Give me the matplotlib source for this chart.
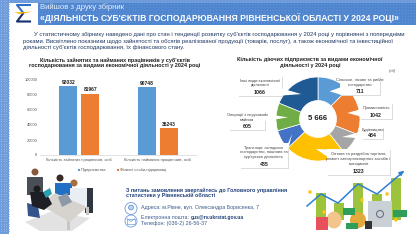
import numpy as np
import matplotlib
matplotlib.use('Agg')
import matplotlib.pyplot as plt
from matplotlib.patches import Rectangle, Polygon, Circle, Ellipse

plt.rcParams['font.family'] = ['Liberation Sans', 'DejaVu Sans']

# bar chart data
bar_groups = ['Кількість зайнятих працівників, осіб', 'Кількість найманих працівників, осіб']
bar_series = ['Підприємства', 'Фізичні особи-підприємці']
enterprises = [92032, 90748]
individuals = [81967, 36243]
bar_ticks = [0, 20000, 40000, 60000, 80000, 100000]

# donut data
donut_values = [711, 1042, 484, 1323, 435, 605, 1066]
donut_colors = ['#5b9bd5', '#ed7d31', '#a5a5a5', '#ffc000', '#4472c4', '#70ad47', '#1f5a94']
donut_labels = ['Сільське, лісове та рибне\nгосподарство', 'Промисловість', 'Будівництво',
                'Оптова та роздрібна торгівля;\nремонт автотранспортних засобів і\nмотоциклів',
                'Транспорт, складське\nгосподарство, поштова та\nкур\'єрська діяльність',
                'Операції з нерухомим\nмайном', 'Інші види економічної\nдіяльності']
donut_total = '5 666'

NAVY = '#1f3864'
W, H = 416, 234
fig = plt.figure(figsize=(W / 100, H / 100), dpi=100)
bg = fig.add_axes([0, 0, 1, 1])
bg.set_xlim(0, W)
bg.set_ylim(H, 0)
bg.axis('off')

# dotted blue frame and header
bg.add_patch(Rectangle((0, 0), 9, H, color='#6f9ddb', lw=0, zorder=1))
bg.add_patch(Rectangle((0, 0), W, 3, color='#6f9ddb', lw=0, zorder=1))
bg.add_patch(Rectangle((38, 3), W - 38, 22, color='#4f86cf', lw=0, zorder=1))
xs, ys = np.meshgrid(np.arange(1, 9, 2.5), np.arange(1, H, 2.5))
bg.scatter(xs.ravel(), ys.ravel(), s=0.4, color='#9dbce8', lw=0, zorder=2)
xs, ys = np.meshgrid(np.arange(39, W, 3), np.arange(4, 25, 3))
bg.scatter(xs.ravel(), ys.ravel(), s=0.3, color='#6a9ad9', lw=0, zorder=2)
bg.text(40.5, 7.5, 'Вийшов з друку збірник', fontsize=5.6, color='#e6eefa', va='center', zorder=3)
bg.text(40.5, 18, '«ДІЯЛЬНІСТЬ СУБ\'ЄКТІВ ГОСПОДАРЮВАННЯ РІВНЕНСЬКОЇ ОБЛАСТІ У 2024 РОЦІ»',
        fontsize=6.22, color='white', weight='bold', va='center', zorder=3)

# logo
bg.plot([30, 17, 23], [5, 5, 12.5], color='#2f6fc4', lw=1.5, zorder=3)
bg.plot([23, 17, 30], [13.5, 21.5, 21.5], color='#14306e', lw=1.5, zorder=3)
bg.add_patch(Polygon([(14, 12.5), (33, 11.5), (20, 14)], color='#f5b400', lw=0, zorder=4))

# intro text
intro = [
    'У статистичному збірнику наведено дані про стан і тенденції розвитку суб\'єктів господарювання у 2024 році у порівнянні з попередніми',
    'роками. Висвітлено показники щодо зайнятості та обсягів реалізованої продукції (товарів, послуг), а також економічної та інвестиційної',
    'діяльності суб\'єктів господарювання, їх фінансового стану.',
]
bg.text(34, 34.5, intro[0], fontsize=4.22, color=NAVY, va='center')
bg.text(23, 41, intro[1], fontsize=4.28, color=NAVY, va='center')
bg.text(23, 47.5, intro[2], fontsize=4.28, color=NAVY, va='center')

# chart titles
bg.text(115, 60.5, 'Кількість зайнятих та найманих працівників у суб\'єктів', fontsize=4.0,
        weight='bold', color='#222222', ha='center', va='center')
bg.text(115, 66, 'господарювання за видами економічної діяльності у 2024 році', fontsize=4.0,
        weight='bold', color='#222222', ha='center', va='center')
bg.text(310, 60, 'Кількість діючих підприємств за видами економічної', fontsize=3.95,
        weight='bold', color='#222222', ha='center', va='center')
bg.text(310, 66, 'діяльності у 2024 році', fontsize=3.95,
        weight='bold', color='#222222', ha='center', va='center')
bg.text(392, 71, '(од)', fontsize=3, style='italic', color='#555555', ha='center', va='center')

# bar chart
ax = fig.add_axes([40 / W, 1 - 155 / H, 157 / W, 75 / H])
x = np.arange(len(bar_groups))
width = 0.225
b1 = ax.bar(x - 0.14, enterprises, width, color='#5b9bd5')
b2 = ax.bar(x + 0.14, individuals, width, color='#ed7d31')
for bars in (b1, b2):
    for r in bars:
        ax.text(r.get_x() + r.get_width() / 2, r.get_height() + 1500, str(int(r.get_height())),
                ha='center', va='bottom', fontsize=3.6, weight='bold', color='#222222')
ax.set_xlim(-0.5, 1.5)
ax.set_ylim(0, 100000)
ax.set_yticks(bar_ticks)
ax.set_xticks(x)
ax.set_xticklabels(bar_groups)
ax.tick_params(axis='both', length=0, labelsize=2.9, labelcolor='#555555', pad=2)
for s in ['top', 'left', 'right']:
    ax.spines[s].set_visible(False)
ax.spines['bottom'].set_color('#cccccc')
ax.spines['bottom'].set_linewidth(0.4)
ax.patch.set_alpha(0)

# bar legend
bg.add_patch(Rectangle((77.5, 169), 2.2, 2.2, color='#5b9bd5', lw=0))
bg.text(81, 170.2, bar_series[0], fontsize=2.9, color='#555555', va='center')
bg.add_patch(Rectangle((116.5, 169), 2.2, 2.2, color='#ed7d31', lw=0))
bg.text(120, 170.2, bar_series[1], fontsize=2.9, color='#555555', va='center')

# donut
cx, cy, R = 318, 119, 42
dn = fig.add_axes([(cx - R) / W, 1 - (cy + R) / H, 2 * R / W, 2 * R / H])
wedges, _ = dn.pie(donut_values, colors=donut_colors, startangle=90, counterclock=False,
                   radius=1, wedgeprops=dict(width=0.56, edgecolor='white', linewidth=0.5))
dn.set_xlim(-1, 1)
dn.set_ylim(-1, 1)

# overlay for callouts, above the donut axes
top = fig.add_axes([0, 0, 1, 1])
top.set_xlim(0, W)
top.set_ylim(H, 0)
top.axis('off')
top.text(cx, cy, donut_total, fontsize=5.5, weight='bold', color='#222222', ha='center', va='center', zorder=6)

# callout boxes: x0, y0, x1, y1 in picture pixels
boxes = [(340, 76, 380, 95), (360, 103, 392, 119), (362, 127, 383, 139),
         (327, 149, 390, 175), (240, 143, 288, 168), (229, 111, 265, 130), (238, 76, 282, 96)]
for w, lab, val, (x0, y0, x1, y1) in zip(wedges, donut_labels, donut_values, boxes):
    top.add_patch(Rectangle((x0 + 0.7, y0 + 0.7), x1 - x0, y1 - y0, color='#dcdcdc', lw=0, zorder=7))
    top.add_patch(Rectangle((x0, y0), x1 - x0, y1 - y0, color='white', lw=0, zorder=8))
    mid = np.deg2rad((w.theta1 + w.theta2) / 2)
    tip = (cx + 30 * np.cos(mid), cy - 30 * np.sin(mid))
    mx = np.clip(tip[0], x0 + 5, x1 - 5)
    my = np.clip(tip[1], y0 + 4, y1 - 4)
    if x1 < tip[0] or x0 > tip[0]:
        ex = x1 if x1 < tip[0] else x0
        base = [(ex, my - 3.5), (ex, my + 3.5)]
    else:
        ey = y1 if y1 < tip[1] else y0
        base = [(mx - 4, ey), (mx + 4, ey)]
    top.add_patch(Polygon([base[0], tip, base[1]], color='white', lw=0, zorder=8))
    top.text((x0 + x1) / 2, (y0 + y1) / 2 - 3, lab, fontsize=2.85, color='#444444',
             ha='center', va='center', linespacing=1.3, zorder=9)
    top.text((x0 + x1) / 2, y1 - 3.5, str(val), fontsize=3.8, weight='bold',
             color='#222222', ha='center', va='center', zorder=9)

# contact block
bg.text(126, 190, 'З питань замовлення звертайтесь до Головного управління', fontsize=3.88,
        weight='bold', color='#1f3f7a', va='center')
bg.text(126, 195.7, 'статистики у Рівненській області', fontsize=3.88, weight='bold',
        color='#1f3f7a', va='center')
bg.text(141, 207.7, 'Адреса: м.Рівне, вул. Олександра Борисенка, 7', fontsize=3.75, color='#3a5a8c', va='center')
bg.text(141, 217.7, 'Електронна пошта: ', fontsize=3.75, color='#3a5a8c', va='center')
bg.text(191, 217.7, 'gus@rv.ukrstat.gov.ua', fontsize=3.6, weight='bold', color='#1f3f7a', va='center')
bg.text(141, 223.3, 'Телефон: (036-2) 26-56-37', fontsize=3.9, color='#3a5a8c', va='center')
bg.add_patch(Circle((131, 208.5), 6, fc='white', ec='#6f9ddb', lw=0.6))
bg.add_patch(Circle((131, 207.5), 2.4, fc='#bcd2ef', ec='#4f86cf', lw=0.5))
bg.add_patch(Circle((131, 221), 6, fc='white', ec='#6f9ddb', lw=0.6))
bg.add_patch(Rectangle((127, 218.5), 8, 5, fc='white', ec='#6f9ddb', lw=0.5))
bg.plot([127, 131, 135], [218.5, 221.5, 218.5], color='#6f9ddb', lw=0.5)

# people at the table (rough illustration)
bg.add_patch(Polygon([(25, 222), (50, 212), (90, 218), (72, 231), (40, 231)], color='#e2e2e2', lw=0, zorder=2))
bg.add_patch(Rectangle((85, 188), 8, 25, color='#2f3642', lw=0, zorder=2))
bg.add_patch(Polygon([(27, 203), (38, 206), (40, 218), (28, 216)], color='#33538a', lw=0, zorder=3))
bg.add_patch(Rectangle((27, 177), 16, 18, color='#4a4f57', lw=0, zorder=3))
bg.add_patch(Rectangle((55, 183), 17, 12, color='#1f6fc4', lw=0, zorder=3))
bg.add_patch(Rectangle((70, 188), 17, 19, color='#e9eef5', lw=0, zorder=3))
bg.add_patch(Polygon([(55, 193), (87, 207), (70, 222), (40, 205)], color='#d6d3cf', lw=0, zorder=4))
bg.add_patch(Polygon([(30, 192), (46, 192), (52, 204), (44, 210), (32, 206)], color='#1d1f24', lw=0, zorder=5))
bg.add_patch(Polygon([(58, 197), (67, 193), (72, 202), (62, 207)], color='#8e99a6', lw=0, zorder=5))
bg.add_patch(Polygon([(43, 192), (50, 188), (52, 194), (46, 198)], color='#2b9fb0', lw=0, zorder=5))
bg.add_patch(Rectangle((67, 220), 3, 10, color='#c9c6c2', lw=0, zorder=3))
bg.add_patch(Rectangle((86, 207), 3, 8, color='#c9c6c2', lw=0, zorder=3))
for px, py, c in [(35, 172, '#8a5a3c'), (60, 178, '#3a2a22'), (74, 183, '#a8703f'), (37, 189, '#1c1c1c')]:
    bg.add_patch(Circle((px, py), 3.5, color=c, lw=0, zorder=6))

# money chart (rough illustration)
money_bars = [(316, 193, 220), (334, 203, 220), (353, 183, 222), (372, 194, 202), (391, 178, 220)]
for bx, bt, bb in money_bars:
    bg.add_patch(Rectangle((bx, bt), 10, bb - bt, color='#9bc33c', lw=0, zorder=2))
bg.plot([307, 321, 338, 358, 377, 403], [206, 194, 203, 184, 194, 172], color='#2f7fd1', lw=1.1, zorder=4)
bg.annotate('', xy=(406, 169), xytext=(400, 174),
            arrowprops=dict(arrowstyle='-|>', color='#2f7fd1', lw=1.1, mutation_scale=6), zorder=4)
bg.add_patch(Rectangle((368, 201), 24, 26, color='#c9d0d6', lw=0, zorder=5))
bg.add_patch(Circle((380, 214), 3.5, fc='#c9d0d6', ec='#6c757d', lw=0.8, zorder=6))
bg.add_patch(Ellipse((334, 220), 15, 17, color='#f3c58c', lw=0, zorder=5))
bg.add_patch(Ellipse((358, 220), 16, 16, color='#e2a93b', lw=0, zorder=5))
bg.add_patch(Rectangle((316, 217), 12, 13, color='#e8505b', lw=0, zorder=5))
bg.add_patch(Rectangle((343, 208), 12, 7, color='#2f9e5b', lw=0, zorder=6))
bg.add_patch(Rectangle((393, 210), 14, 7, color='#2f9e5b', lw=0, zorder=6))
bg.add_patch(Rectangle((346, 223), 12, 6, color='#2f9e5b', lw=0, zorder=6))
bg.add_patch(Rectangle((365, 221), 7, 8, color='#333333', lw=0, zorder=6))
for px, py in [(310, 192), (324, 212), (362, 200), (387, 194), (396, 220)]:
    bg.add_patch(Circle((px, py), 1.8, color='#ffc61a', lw=0, zorder=6))

fig.savefig('out.png', dpi=100)
